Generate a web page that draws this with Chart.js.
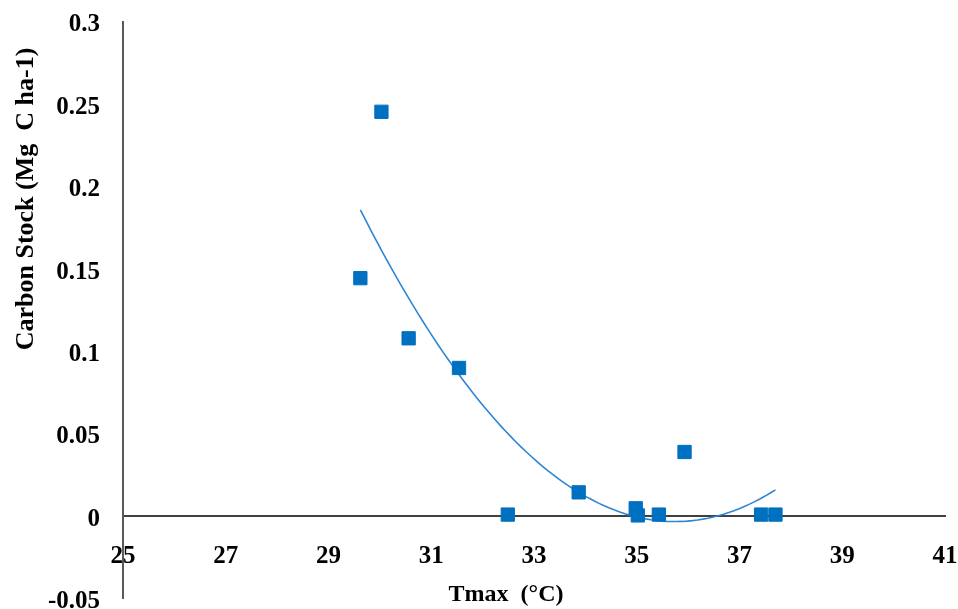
<!DOCTYPE html>
<html>
<head>
<meta charset="utf-8">
<script src="https://cdn.jsdelivr.net/npm/chart.js@4/dist/chart.umd.min.js"></script>
<style>
  html, body { margin: 0; padding: 0; background: #fff; }
  #wrap { width: 958px; height: 609px; position: relative; }
</style>
</head>
<body>
<div id="wrap"><canvas id="carbonChart"></canvas></div>
<script>
// Carbon stock vs Tmax, scatter with a 2nd order polynomial trend line

// data
const tmaxValues = [29.62, 30.03, 30.56, 31.54, 32.49, 33.87, 34.98, 35.02, 35.43, 35.93, 37.42, 37.70];
const carbonValues = [0.1445, 0.2455, 0.108, 0.090, 0.001, 0.0145, 0.0048, 0.0005, 0.001, 0.039, 0.001, 0.001];

// axis ticks
const xTicks = [25, 27, 29, 31, 33, 35, 37, 39, 41];
const yTicks = [-0.05, 0, 0.05, 0.1, 0.15, 0.2, 0.25, 0.3];

const xTitle = 'Tmax  (°C)';
const yTitle = 'Carbon Stock (Mg  C ha-1)';

const fontFamily = '"Liberation Serif", "Times New Roman", serif';

// least squares fit y = c0 + c1*x + c2*x^2 (like the excel trendline)
function polyFit2(xs, ys) {
  const m = [[0, 0, 0, 0], [0, 0, 0, 0], [0, 0, 0, 0]];
  xs.forEach((x, i) => {
    const p = [1, x, x * x];
    for (let r = 0; r < 3; r++) {
      for (let c = 0; c < 3; c++) m[r][c] += p[r] * p[c];
      m[r][3] += p[r] * ys[i];
    }
  });
  // gauss elimination
  for (let k = 0; k < 3; k++) {
    for (let r = k + 1; r < 3; r++) {
      const f = m[r][k] / m[k][k];
      for (let c = k; c < 4; c++) m[r][c] -= f * m[k][c];
    }
  }
  const coef = [0, 0, 0];
  for (let r = 2; r >= 0; r--) {
    let s = m[r][3];
    for (let c = r + 1; c < 3; c++) s -= m[r][c] * coef[c];
    coef[r] = s / m[r][r];
  }
  return coef;
}

const coef = polyFit2(tmaxValues, carbonValues);
const xMin = Math.min(...tmaxValues);
const xMax = Math.max(...tmaxValues);
const trendPoints = [];
for (let i = 0; i <= 80; i++) {
  const x = xMin + (xMax - xMin) * i / 80;
  trendPoints.push({ x: x, y: coef[0] + coef[1] * x + coef[2] * x * x });
}

const scatterPoints = tmaxValues.map((x, i) => ({ x: x, y: carbonValues[i] }));

// axis titles drawn by hand so they sit where excel put them
const axisTitles = {
  id: 'axisTitles',
  afterDraw(chart) {
    const ctx = chart.ctx;
    ctx.save();
    ctx.fillStyle = '#000';
    ctx.font = 'bold 24px ' + fontFamily;
    ctx.textAlign = 'center';
    ctx.textBaseline = 'middle';
    ctx.fillText(xTitle, 506, 595);
    ctx.translate(26, 199);
    ctx.rotate(-Math.PI / 2);
    ctx.font = 'bold 26px ' + fontFamily;
    ctx.fillText(yTitle, 0, 0);
    ctx.restore();
  }
};

new Chart(document.getElementById('carbonChart'), {
  type: 'scatter',
  data: {
    datasets: [{
      label: 'Carbon stock',
      data: scatterPoints,
      pointStyle: 'rect',
      pointRadius: 9.4,
      pointHoverRadius: 9.4,
      backgroundColor: '#0070C0',
      borderColor: '#0070C0',
      borderWidth: 1,
      order: 0
    }, {
      label: 'Poly trend',
      type: 'line',
      data: trendPoints,
      borderColor: '#2E86D4',
      borderWidth: 1.6,
      pointRadius: 0,
      fill: false,
      tension: 0,
      order: 1
    }]
  },
  options: {
    responsive: true,
    maintainAspectRatio: false,
    animation: false,
    layout: {
      padding: { top: 22, bottom: 8, left: 0, right: 13 }
    },
    plugins: {
      legend: { display: false },
      tooltip: { enabled: false }
    },
    scales: {
      x: {
        type: 'linear',
        position: { y: 0 },
        min: 25,
        max: 41,
        afterBuildTicks: (scale) => { scale.ticks = xTicks.map(v => ({ value: v })); },
        afterFit: (scale) => { scale.paddingLeft = 0; scale.paddingRight = 0; },
        grid: { display: false, drawTicks: false },
        border: { display: true, color: '#404040', width: 2 },
        ticks: {
          padding: 25,
          color: '#000',
          maxRotation: 0,
          font: { family: fontFamily, size: 25, weight: 'bold' }
        }
      },
      y: {
        type: 'linear',
        position: 'left',
        min: -0.05,
        max: 0.3,
        afterBuildTicks: (scale) => { scale.ticks = yTicks.map(v => ({ value: v })); },
        afterFit: (scale) => { scale.width = 123; scale.paddingTop = 0; scale.paddingBottom = 0; },
        grid: { display: false, drawTicks: false },
        border: { display: true, color: '#595959', width: 2 },
        ticks: {
          padding: 23,
          labelOffset: 3,
          color: '#000',
          font: { family: fontFamily, size: 25, weight: 'bold' },
          callback: (v) => String(Number(v.toFixed(2)))
        }
      }
    }
  },
  plugins: [axisTitles]
});
</script>
</body>
</html>
